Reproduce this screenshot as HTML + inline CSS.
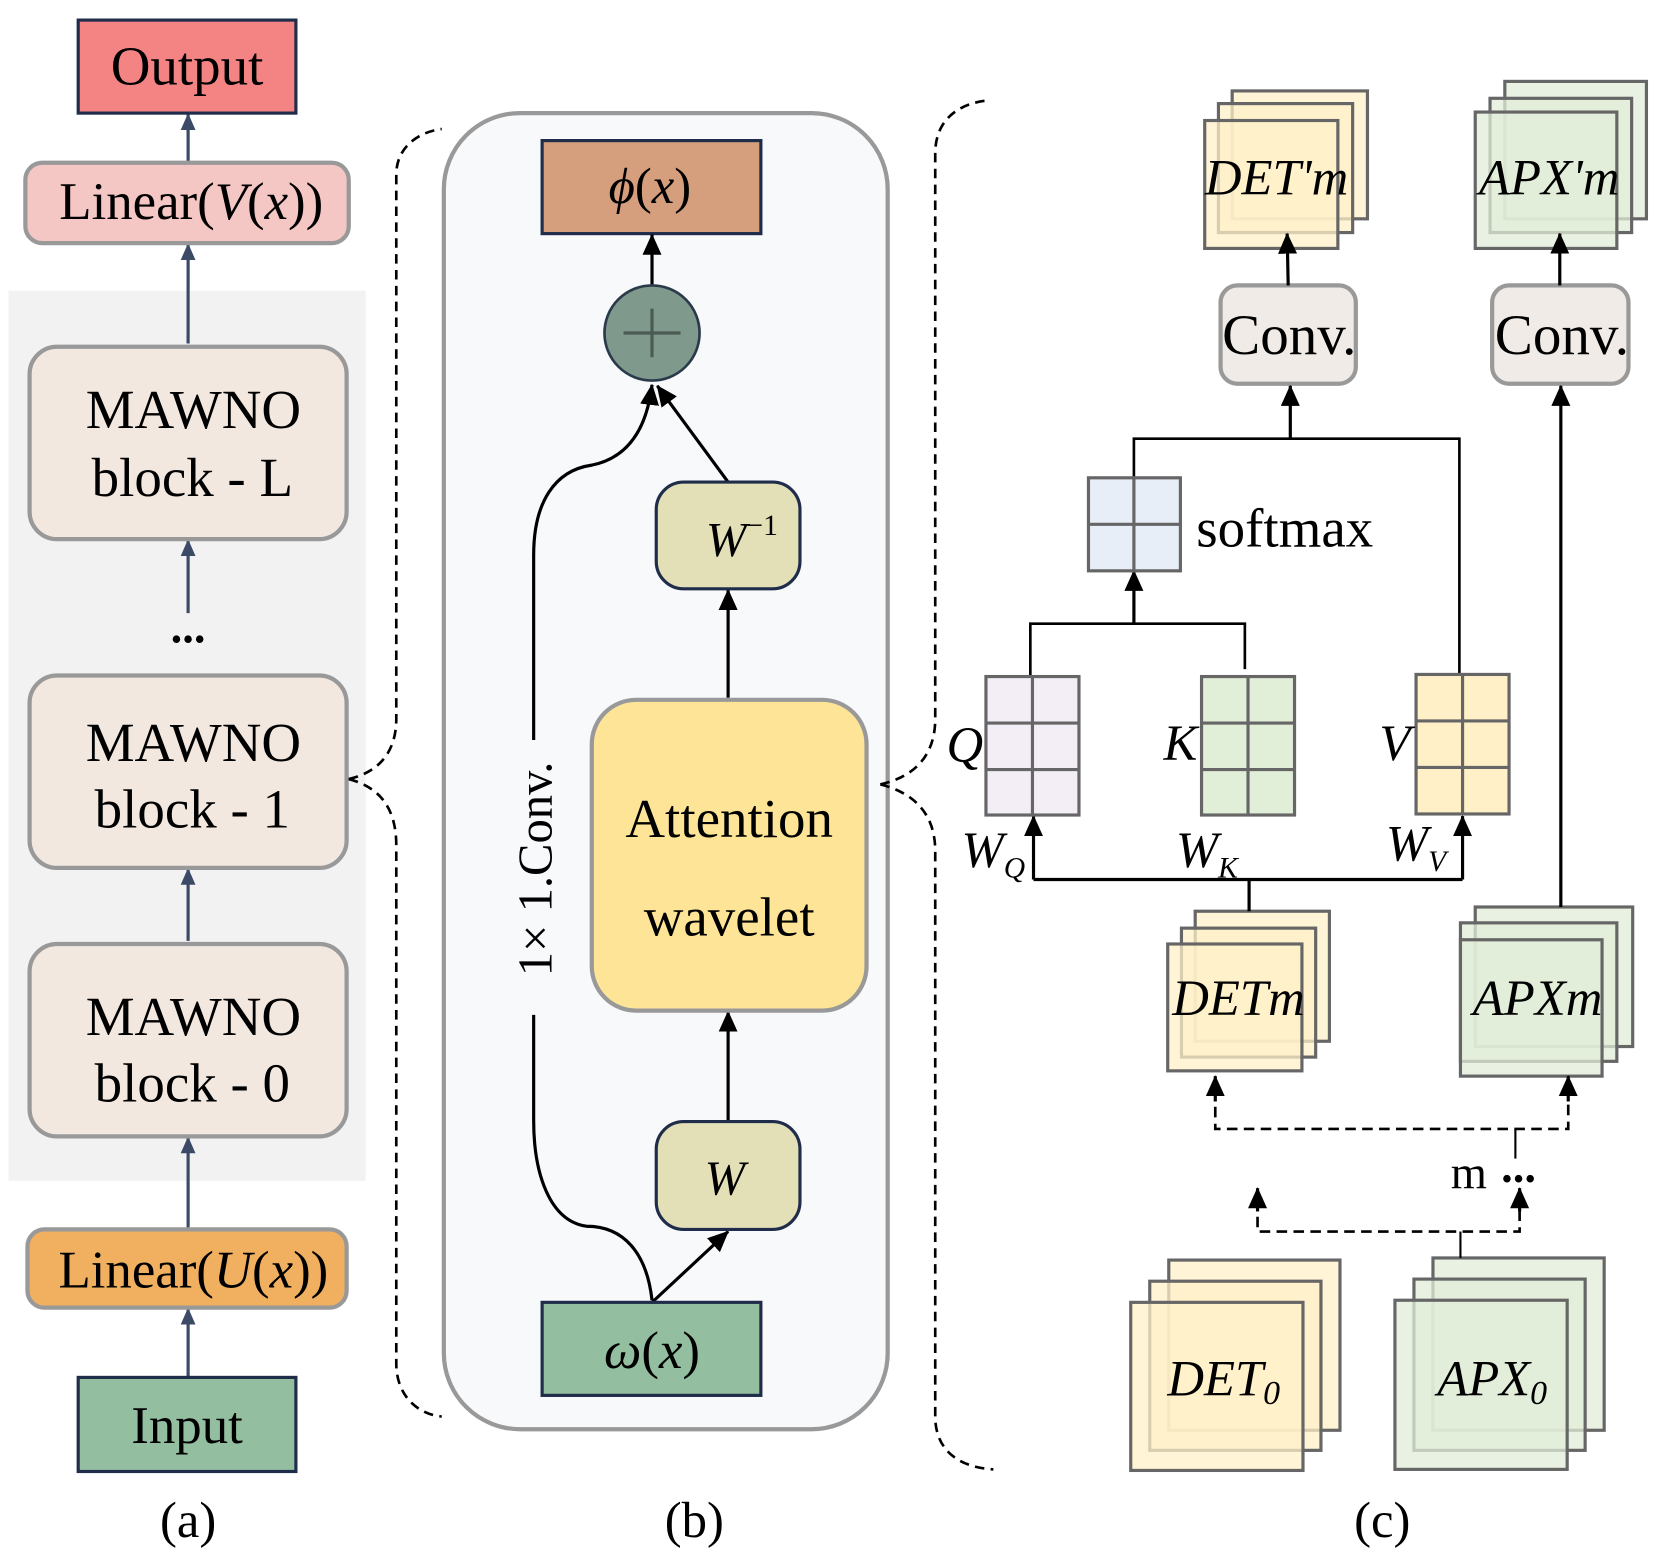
<!DOCTYPE html>
<html><head><meta charset="utf-8"><style>
html,body{margin:0;padding:0;background:#fff;}
svg{display:block;}
text{font-family:"Liberation Serif",serif;fill:#000;}
</style></head><body>
<svg width="1657" height="1555" viewBox="0 0 1568 1471" preserveAspectRatio="none" xmlns="http://www.w3.org/2000/svg">
<defs>
<marker id="ab" markerWidth="16" markerHeight="14" refX="15" refY="7" orient="auto" markerUnits="userSpaceOnUse" viewBox="0 0 16 14"><path d="M0,0 L16,7 L0,14 Z" fill="#3b4a66"/></marker>
<marker id="ak" markerWidth="20" markerHeight="18" refX="19" refY="9" orient="auto" markerUnits="userSpaceOnUse" viewBox="0 0 20 18"><path d="M0,0 L20,9 L0,18 Z" fill="#000"/></marker>
</defs>
<!-- (a) -->
<rect x="8" y="275" width="338" height="842" fill="#f2f2f2"/>
<g stroke="#3b4a66" stroke-width="3" fill="none">
<line x1="178" y1="153" x2="178" y2="108" marker-end="url(#ab)"/>
<line x1="178" y1="325" x2="178" y2="231" marker-end="url(#ab)"/>
<line x1="178" y1="580" x2="178" y2="511" marker-end="url(#ab)"/>
<line x1="178" y1="890" x2="178" y2="822" marker-end="url(#ab)"/>
<line x1="178" y1="1163" x2="178" y2="1076" marker-end="url(#ab)"/>
<line x1="178" y1="1303" x2="178" y2="1238" marker-end="url(#ab)"/>
</g>
<rect x="74" y="19" width="206" height="88" fill="#f48484" stroke="#1f2d4a" stroke-width="3"/>
<text x="177" y="80" font-size="52" text-anchor="middle">Output</text>
<rect x="24" y="154" width="306" height="76" rx="16" fill="#f4c6c4" stroke="#999" stroke-width="4"/>
<text x="181" y="207" font-size="50" text-anchor="middle">Linear(<tspan font-style="italic">V</tspan>(<tspan font-style="italic">x</tspan>))</text>
<g fill="#f2e8e0" stroke="#999" stroke-width="4">
<rect x="28" y="328" width="300" height="182" rx="26"/>
<rect x="28" y="639" width="300" height="182" rx="26"/>
<rect x="28" y="893" width="300" height="182" rx="26"/>
</g>
<g font-size="52" text-anchor="middle">
<text x="183" y="405">MAWNO</text><text x="182" y="469">block - L</text>
<text x="183" y="720">MAWNO</text><text x="182" y="783">block - 1</text>
<text x="183" y="979">MAWNO</text><text x="182" y="1042">block - 0</text>
<text x="178" y="608" font-size="44" font-weight="bold">...</text>
</g>
<rect x="26" y="1163" width="302" height="74" rx="16" fill="#f0b060" stroke="#999" stroke-width="4"/>
<text x="183" y="1218" font-size="50" text-anchor="middle">Linear(<tspan font-style="italic">U</tspan>(<tspan font-style="italic">x</tspan>))</text>
<rect x="74" y="1303" width="206" height="89" fill="#93bfa0" stroke="#1f2d4a" stroke-width="3"/>
<text x="177" y="1365" font-size="50" text-anchor="middle">Input</text>
<text x="178" y="1454" font-size="48" text-anchor="middle">(a)</text>
<!-- brace left -->
<path d="M330,737 C360,730 375,710 375,680 L375,165 C375,140 395,125 418,122 M330,737 C360,745 375,765 375,800 L375,1290 C375,1320 395,1338 418,1340" fill="none" stroke="#000" stroke-width="2.5" stroke-dasharray="9,6"/>
<!-- (b) -->
<rect x="420" y="107" width="420" height="1245" rx="72" fill="#f8f9fb" stroke="#999" stroke-width="4"/>
<rect x="513" y="133" width="207" height="88" fill="#d59e7d" stroke="#1f2d4a" stroke-width="3"/>
<text x="615" y="192" font-size="48" text-anchor="middle"><tspan font-style="italic">ϕ</tspan>(<tspan font-style="italic">x</tspan>)</text>
<g stroke="#000" stroke-width="3" fill="none">
<line x1="617" y1="270" x2="617" y2="222" marker-end="url(#ak)"/>
<line x1="689" y1="456" x2="622" y2="365" marker-end="url(#ak)"/>
<line x1="689" y1="660" x2="689" y2="558" marker-end="url(#ak)"/>
<line x1="689" y1="1060" x2="689" y2="957" marker-end="url(#ak)"/>
<line x1="617" y1="1232" x2="689" y2="1165" marker-end="url(#ak)"/>
<path d="M617,1230 C612,1185 590,1160 555,1160 C520,1155 505,1110 505,1060 L505,960"/>
<path d="M505,700 L505,525 C505,475 525,445 560,440 C595,433 612,405 617,364" marker-end="url(#ak)"/>
</g>
<text transform="translate(522,822) rotate(-90)" font-size="46" text-anchor="middle">1× 1.Conv.</text>
<circle cx="617" cy="315" r="45" fill="#7f9a8c" stroke="#2b3a4a" stroke-width="2.5"/>
<path d="M590,315 H644 M617,292 V338" stroke="#4a5a55" stroke-width="3"/>
<rect x="621" y="456" width="136" height="101" rx="26" fill="#e3e0b8" stroke="#1f2d4a" stroke-width="3"/>
<text x="668" y="526" font-size="46" font-style="italic">W<tspan font-size="28" dy="-20" font-style="normal">−1</tspan></text>
<rect x="560" y="662" width="260" height="294" rx="42" fill="#fde496" stroke="#999" stroke-width="4"/>
<text x="690" y="792" font-size="52" text-anchor="middle">Attention</text>
<text x="690" y="885" font-size="52" text-anchor="middle">wavelet</text>
<rect x="621" y="1061" width="136" height="102" rx="26" fill="#e3e0b8" stroke="#1f2d4a" stroke-width="3"/>
<text x="686" y="1130" font-size="46" text-anchor="middle" font-style="italic">W</text>
<rect x="513" y="1232" width="207" height="88" fill="#93bfa0" stroke="#1f2d4a" stroke-width="3"/>
<text x="617" y="1294" font-size="50" text-anchor="middle"><tspan font-style="italic">ω</tspan>(<tspan font-style="italic">x</tspan>)</text>
<text x="657" y="1454" font-size="48" text-anchor="middle">(b)</text>
<!-- brace right -->
<path d="M833,742 C865,735 885,715 885,680 L885,145 C885,115 905,98 935,95 M833,742 C865,750 885,770 885,805 L885,1340 C885,1370 905,1388 940,1390" fill="none" stroke="#000" stroke-width="2.5" stroke-dasharray="9,6"/>
<!-- (c) -->
<g stroke="#666" stroke-width="3">
<g fill="#fff0c8" fill-opacity="0.75">
<rect x="1166" y="86" width="128" height="121"/><rect x="1153" y="98" width="127" height="122"/><rect x="1140" y="114" width="126" height="121"/>
<rect x="1131" y="862" width="127" height="123"/><rect x="1118" y="878" width="127" height="122"/><rect x="1105" y="893" width="127" height="120"/>
<rect x="1106" y="1192" width="162" height="161"/><rect x="1088" y="1212" width="162" height="160"/><rect x="1070" y="1232" width="163" height="159"/>
</g>
<g fill="#e2eed8" fill-opacity="0.75">
<rect x="1424" y="77" width="134" height="130"/><rect x="1410" y="93" width="134" height="127"/><rect x="1396" y="106" width="134" height="129"/>
<rect x="1396" y="858" width="149" height="132"/><rect x="1382" y="873" width="148" height="131"/><rect x="1382" y="889" width="134" height="129"/>
<rect x="1356" y="1190" width="162" height="163"/><rect x="1338" y="1210" width="162" height="162"/><rect x="1320" y="1230" width="163" height="160"/>
</g>
</g>
<g font-size="48" font-style="italic" text-anchor="middle">
<text x="1208" y="184">DET'm</text>
<text x="1466" y="184">APX'm</text>
<text x="1172" y="960">DETm</text>
<text x="1455" y="960">APXm</text>
<text x="1158" y="1320">DET<tspan font-size="32" dy="8">0</tspan></text>
<text x="1412" y="1320">APX<tspan font-size="32" dy="8">0</tspan></text>
</g>
<g fill="#f0ebe6" stroke="#999" stroke-width="4">
<rect x="1155" y="270" width="128" height="93" rx="16"/>
<rect x="1412" y="270" width="129" height="93" rx="16"/>
</g>
<text x="1220" y="335" font-size="54" text-anchor="middle">Conv.</text>
<text x="1478" y="335" font-size="54" text-anchor="middle">Conv.</text>
<g stroke="#000" stroke-width="3" fill="none">
<line x1="1219" y1="270" x2="1218" y2="221" marker-end="url(#ak)"/>
<line x1="1476" y1="270" x2="1476" y2="221" marker-end="url(#ak)"/>
<line x1="1221" y1="415" x2="1221" y2="365" marker-end="url(#ak)"/>
<line x1="1477" y1="858" x2="1477" y2="365" marker-end="url(#ak)"/>
<path d="M1073,452 V415 H1381 V637" stroke-width="2.5"/>
<line x1="1073" y1="590" x2="1073" y2="540" marker-end="url(#ak)"/>
<path d="M975,640 V590 H1178 V633" stroke-width="2.5"/>
<path d="M978,832 H1384"/>
<line x1="978" y1="832" x2="978" y2="772" marker-end="url(#ak)"/>
<line x1="1384" y1="832" x2="1384" y2="772" marker-end="url(#ak)"/>
<line x1="1182" y1="832" x2="1182" y2="862"/>
<g stroke-dasharray="10,6" stroke-width="2.5">
<path d="M1484,1045 V1068 H1150 V1040"/>
<path d="M1438,1145 V1165 H1190 V1145"/>
</g>
<line x1="1150" y1="1042" x2="1150" y2="1018" marker-end="url(#ak)"/>
<line x1="1484" y1="1042" x2="1484" y2="1018" marker-end="url(#ak)"/>
<line x1="1190" y1="1146" x2="1190" y2="1124" marker-end="url(#ak)"/>
<line x1="1438" y1="1146" x2="1438" y2="1124" marker-end="url(#ak)"/>
<line x1="1434" y1="1068" x2="1434" y2="1096" stroke-width="2"/>
<line x1="1382" y1="1165" x2="1382" y2="1190" stroke-width="2"/>
</g>
<g stroke="#666" stroke-width="3">
<rect x="1030" y="452" width="87" height="88" fill="#e8eef8"/>
<path d="M1073,452 V540 M1030,496 H1117"/>
<rect x="933" y="640" width="88" height="131" fill="#f3eef6"/>
<path d="M977,640 V771 M933,684 H1021 M933,728 H1021"/>
<rect x="1137" y="640" width="88" height="131" fill="#e1eed8"/>
<path d="M1181,640 V771 M1137,684 H1225 M1137,728 H1225"/>
<rect x="1340" y="638" width="88" height="132" fill="#fff0c8"/>
<path d="M1384,638 V770 M1340,682 H1428 M1340,726 H1428"/>
</g>
<text x="1132" y="517" font-size="52">softmax</text>
<g font-size="48" font-style="italic" text-anchor="middle">
<text x="913" y="721">Q</text><text x="1117" y="719">K</text><text x="1320" y="719">V</text>
<text x="940" y="820">W<tspan font-size="28" dy="10">Q</tspan></text>
<text x="1142" y="820">W<tspan font-size="28" dy="10">K</tspan></text>
<text x="1340" y="814">W<tspan font-size="28" dy="10">V</tspan></text>
</g>
<text x="1390" y="1124" font-size="44" text-anchor="middle">m</text>
<text x="1437" y="1118" font-size="44" text-anchor="middle" font-weight="bold">...</text>
<text x="1308" y="1454" font-size="48" text-anchor="middle">(c)</text>
</svg>
</body></html>
